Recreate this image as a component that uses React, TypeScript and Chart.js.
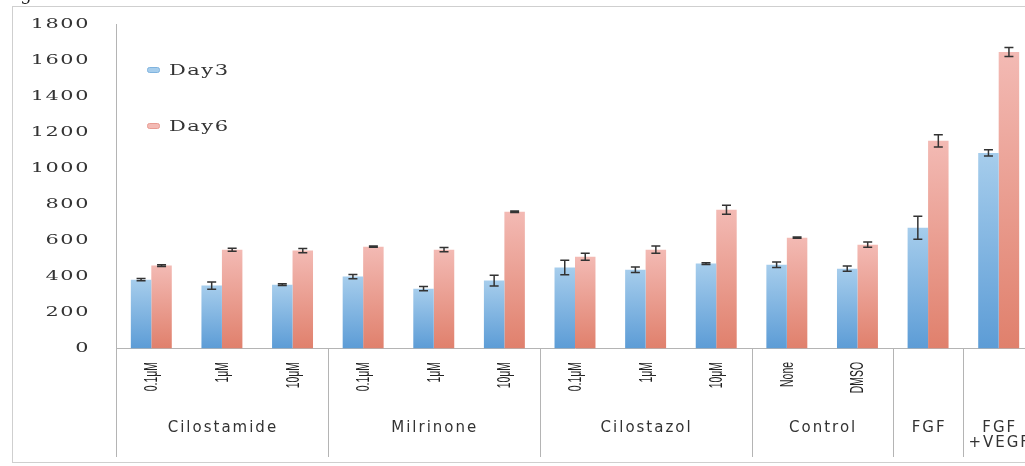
import React, { useEffect, useRef } from 'react';
import { Chart, registerables } from 'chart.js';

Chart.register(...registerables);

// ---- data ----
const categories = [
  'Cilostamide 0.1μM', 'Cilostamide 1μM', 'Cilostamide 10μM',
  'Milrinone 0.1μM', 'Milrinone 1μM', 'Milrinone 10μM',
  'Cilostazol 0.1μM', 'Cilostazol 1μM', 'Cilostazol 10μM',
  'Control None', 'Control DMSO', 'FGF', 'FGF +VEGF',
];
const subLabels = ['0.1μM', '1μM', '10μM', '0.1μM', '1μM', '10μM', '0.1μM', '1μM', '10μM', 'None', 'DMSO', '', ''];
const groupNames = ['Cilostamide', 'Milrinone', 'Cilostazol', 'Control', 'FGF', 'FGF\n+VEGF'];
const groupSizes = [3, 3, 3, 2, 1, 1];
const day3 = [382, 349, 354, 399, 332, 377, 449, 437, 471, 465, 443, 670, 1085];
const day6 = [460, 548, 543, 565, 548, 759, 509, 548, 770, 615, 576, 1152, 1645];
const day3Err = [6, 20, 5, 12, 12, 30, 40, 15, 5, 15, 15, 64, 17];
const day6Err = [5, 8, 12, 4, 12, 4, 20, 20, 25, 4, 15, 34, 25];
const yTicks = [0, 200, 400, 600, 800, 1000, 1200, 1400, 1600, 1800];
const seriesNames = ['Day3', 'Day6'];

const BLUE_TOP = '#a6cdec';
const BLUE_BOT = '#5c9cd6';
const RED_TOP = '#f3bab4';
const RED_BOT = '#e0806c';

export default function App() {
  const ref = useRef<HTMLCanvasElement>(null);

  useEffect(() => {
    document.body.style.margin = '0';
    const canvas = ref.current!;

    const grad = (top: string, bottom: string) => (c: any) => {
      const chart = c.chart;
      if (!chart.chartArea || c.type !== 'data') return bottom;
      const ys = chart.scales.y;
      const yTop = ys.getPixelForValue(c.raw as number);
      const yBot = ys.getPixelForValue(0);
      if (!isFinite(yTop) || !isFinite(yBot)) return bottom;
      const g = chart.ctx.createLinearGradient(0, yTop, 0, yBot);
      g.addColorStop(0, top);
      g.addColorStop(1, bottom);
      return g;
    };

    const errorBars = {
      id: 'errorBars',
      afterDatasetsDraw(chart: any) {
        const ctx = chart.ctx;
        const ys = chart.scales.y;
        const errs = [day3Err, day6Err];
        chart.data.datasets.forEach((ds: any, di: number) => {
          const meta = chart.getDatasetMeta(di);
          meta.data.forEach((el: any, i: number) => {
            const v = ds.data[i];
            const e = errs[di][i];
            const x = el.x;
            const y1 = ys.getPixelForValue(v + e);
            const y2 = ys.getPixelForValue(v - e);
            ctx.save();
            ctx.strokeStyle = '#333';
            ctx.lineWidth = 1.5;
            ctx.beginPath();
            ctx.moveTo(x, y1); ctx.lineTo(x, y2);
            ctx.moveTo(x - 4.5, y1); ctx.lineTo(x + 4.5, y1);
            ctx.moveTo(x - 4.5, y2); ctx.lineTo(x + 4.5, y2);
            ctx.stroke();
            ctx.restore();
          });
        });
      },
    };

    const decorations = {
      id: 'decorations',
      afterDraw(chart: any) {
        const ctx = chart.ctx;
        const xs = chart.scales.x;
        const ys = chart.scales.y;
        const area = chart.chartArea;
        const base = ys.getPixelForValue(0);
        const lineBottom = 457;

        ctx.save();
        // frame
        ctx.strokeStyle = '#cfcfcf';
        ctx.lineWidth = 1;
        ctx.strokeRect(12.5, 6.5, 1100, 456);

        // "Fig" fragment at top-left
        ctx.fillStyle = '#222';
        ctx.font = '18px "DejaVu Serif"';
        ctx.textAlign = 'left';
        ctx.textBaseline = 'alphabetic';
        ctx.fillText('Fig', 2, 0);

        // y axis extension and separators
        ctx.strokeStyle = '#b4b4b4';
        ctx.beginPath();
        ctx.moveTo(area.left + 0.5, base);
        ctx.lineTo(area.left + 0.5, lineBottom);
        let idx = 0;
        const centers: number[] = [];
        groupSizes.forEach((n) => {
          const first = xs.getPixelForValue(idx);
          const last = xs.getPixelForValue(idx + n - 1);
          centers.push((first + last) / 2);
          idx += n;
          if (idx < categories.length) {
            const sx = Math.round((xs.getPixelForValue(idx - 1) + xs.getPixelForValue(idx)) / 2) + 0.5;
            ctx.moveTo(sx, base);
            ctx.lineTo(sx, lineBottom);
          }
        });
        ctx.stroke();

        // y tick labels (wide serif)
        ctx.fillStyle = '#333';
        ctx.font = '13px "DejaVu Serif"';
        (ctx as any).letterSpacing = '1px';
        ctx.textAlign = 'right';
        ctx.textBaseline = 'middle';
        yTicks.forEach((t) => {
          ctx.save();
          ctx.translate(90, ys.getPixelForValue(t) + 0.5);
          ctx.scale(1.6, 1);
          ctx.fillText(String(t), 0, 0);
          ctx.restore();
        });

        // legend
        const legendY = [70, 126];
        const swatch = [BLUE_TOP, RED_TOP];
        const swatchEdge = ['#7fb3de', '#e89b92'];
        ctx.font = '14px "DejaVu Serif"';
        ctx.textAlign = 'left';
        seriesNames.forEach((name, i) => {
          ctx.fillStyle = swatch[i];
          ctx.strokeStyle = swatchEdge[i];
          ctx.beginPath();
          (ctx as any).roundRect(147.5, legendY[i] - 2.5, 12, 5, 2);
          ctx.fill();
          ctx.stroke();
          ctx.fillStyle = '#333';
          ctx.save();
          ctx.translate(169, legendY[i] + 1);
          ctx.scale(1.5, 1);
          ctx.fillText(name, 0, 0);
          ctx.restore();
        });
        (ctx as any).letterSpacing = '0px';

        // rotated sub labels (condensed)
        ctx.fillStyle = '#222';
        ctx.font = '18px "Liberation Sans"';
        ctx.textAlign = 'right';
        ctx.textBaseline = 'middle';
        subLabels.forEach((lab, i) => {
          if (!lab) return;
          ctx.save();
          ctx.translate(xs.getPixelForValue(i) + 1, 362);
          ctx.rotate(-Math.PI / 2);
          ctx.scale(0.58, 1);
          ctx.fillText(lab, 0, 0);
          ctx.restore();
        });

        // group labels
        ctx.font = '15px "DejaVu Sans"';
        (ctx as any).letterSpacing = '2px';
        ctx.textAlign = 'center';
        ctx.fillStyle = '#333';
        groupNames.forEach((g, gi) => {
          const lines = g.split('\n');
          lines.forEach((ln, li) => {
            ctx.fillText(ln, centers[gi] + 1, 428 + li * 15);
          });
        });
        (ctx as any).letterSpacing = '0px';
        ctx.restore();
      },
    };

    const chart = new Chart(canvas, {
      type: 'bar',
      data: {
        labels: categories,
        datasets: [
          { label: seriesNames[0], data: day3, backgroundColor: grad(BLUE_TOP, BLUE_BOT), borderWidth: 0 },
          { label: seriesNames[1], data: day6, backgroundColor: grad(RED_TOP, RED_BOT), borderWidth: 0 },
        ],
      },
      options: {
        responsive: false,
        animation: false,
        devicePixelRatio: 1,
        layout: { padding: { top: 24, right: 11, bottom: 0, left: 0 } },
        datasets: { bar: { categoryPercentage: 0.58, barPercentage: 1.0 } },
        plugins: { legend: { display: false }, tooltip: { enabled: false } },
        scales: {
          x: {
            grid: { display: false, drawTicks: false },
            border: { display: true, color: '#b4b4b4' },
            ticks: { display: false },
            afterFit: (s: any) => { s.height = 117.5; },
          },
          y: {
            min: 0,
            max: 1800,
            grid: { display: false, drawTicks: false },
            border: { display: true, color: '#b4b4b4' },
            ticks: { display: false, stepSize: 200 },
            afterFit: (s: any) => { s.width = 116; },
          },
        },
      },
      plugins: [errorBars, decorations],
    });

    return () => chart.destroy();
  }, []);

  return (
    <div style={{ position: 'fixed', left: 0, top: 0, width: 1025, height: 466, overflow: 'hidden', background: '#fff' }}>
      <canvas ref={ref} width={1045} height={466} style={{ width: 1045, height: 466, display: 'block' }} />
    </div>
  );
}
